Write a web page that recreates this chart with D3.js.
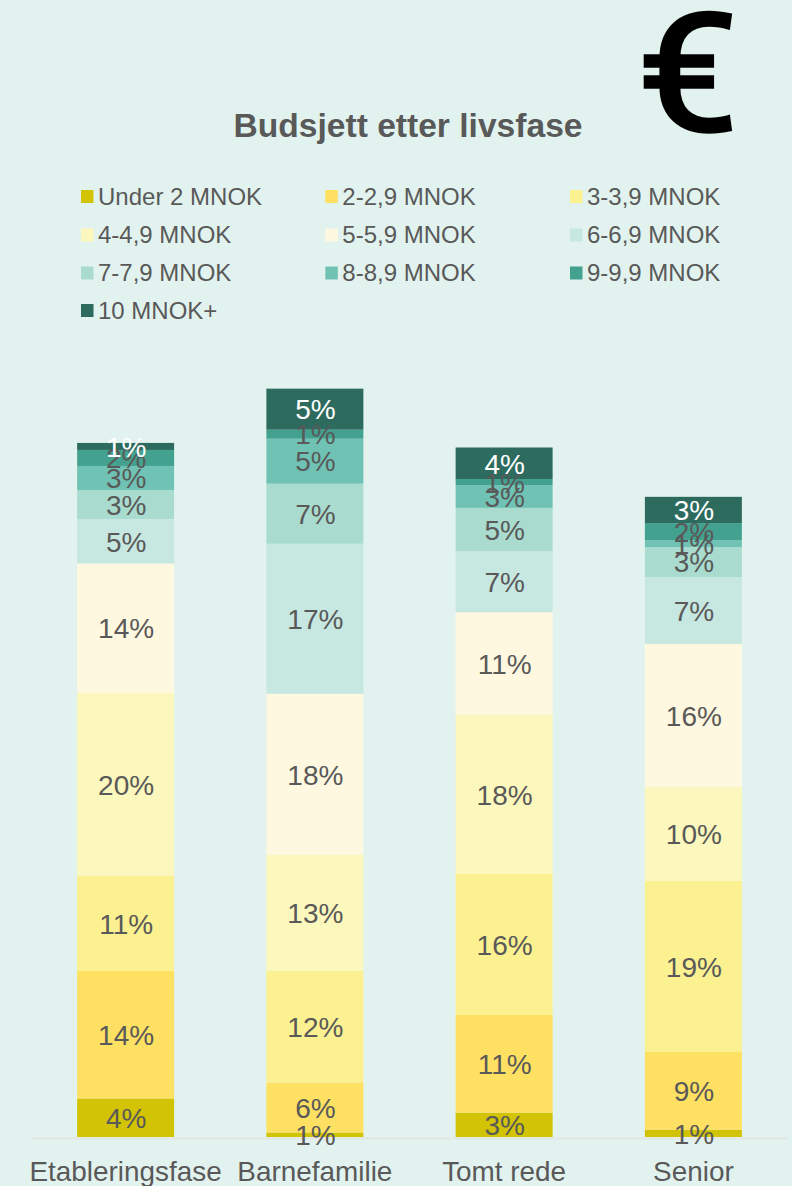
<!DOCTYPE html>
<html><head><meta charset="utf-8">
<script src="https://cdn.jsdelivr.net/npm/d3@7"></script>
<style>html,body{margin:0;padding:0;background:#E2F3EF}svg{display:block}text{font-family:"Liberation Sans",Arial,sans-serif}</style>
</head><body><div id="c"></div>
<script>
const categories = ["Etableringsfase","Barnefamilie","Tomt rede","Senior"];
const seriesNames = ["Under 2 MNOK","2-2,9 MNOK","3-3,9 MNOK","4-4,9 MNOK","5-5,9 MNOK","6-6,9 MNOK","7-7,9 MNOK","8-8,9 MNOK","9-9,9 MNOK","10 MNOK+"];
const under2 = [4.28,0.5,2.7,0.81];
const m2 = [14.17,5.56,10.86,8.63];
const m3 = [10.56,12.41,15.67,19];
const m4 = [20.33,12.89,17.67,10.44];
const m5 = [14.39,17.89,11.41,15.92];
const m6 = [4.94,16.67,6.78,7.41];
const m7 = [3.22,6.67,4.81,3.33];
const m8 = [2.67,5,2.5,0.78];
const m9 = [1.78,1,0.71,1.89];
const m10 = [0.78,4.56,3.5,2.92];
const seriesValues = [under2,m2,m3,m4,m5,m6,m7,m8,m9,m10];
const colors = ["#D2C305","#FEE062","#FBF190","#FCF7BC","#FFF8E0","#C7E7E1","#A9DCCF","#70C3B4","#43A28F","#2D6B5F"];
const chartTitle = "Budsjett etter livsfase";

const W=792,H=1186, base=1137, TXT="#595959";
const svg=d3.select("#c").append("svg").attr("width",W).attr("height",H);
svg.append("rect").attr("width",W).attr("height",H).attr("fill","#E2F3EF");

const x=d3.scaleBand().domain(categories).range([31,788]).paddingInner(0.4875).paddingOuter(0.24375);
const y=d3.scaleLinear().domain([0,100]).range([base,base-900]);

const rows=categories.map((c,i)=>{const o={cat:c};seriesNames.forEach((s,k)=>o[s]=seriesValues[k][i]);return o;});
const stacked=d3.stack().keys(seriesNames)(rows);

svg.append("g").selectAll("g").data(stacked).join("g").attr("fill",(d,i)=>colors[i])
 .selectAll("rect").data(d=>d).join("rect")
 .attr("x",d=>x(d.data.cat)).attr("width",x.bandwidth())
 .attr("y",d=>y(d[1])).attr("height",d=>y(d[0])-y(d[1]));

// axis
const ax=svg.append("g").attr("transform",`translate(0,${base+1})`).call(d3.axisBottom(x).tickSize(0).tickPadding(23));
ax.select(".domain").attr("stroke","#E3E6E4").attr("stroke-width",2);
ax.selectAll("text").attr("font-size",27.9).attr("fill",TXT).attr("font-family","Liberation Sans");

// data labels
const lab=svg.append("g");
stacked.forEach((s,k)=>{
 lab.selectAll(null).data(s).join("text")
  .attr("x",d=>x(d.data.cat)+x.bandwidth()/2+0.5)
  .attr("y",d=>(y(d[0])+y(d[1]))/2+0.5)
  .attr("dy","0.35em").attr("text-anchor","middle").attr("font-size",28)
  .attr("fill",k===9?"#FFFFFF":TXT)
  .text(d=>Math.round(d[1]-d[0]+1e-9)+"%");
});

// title
svg.append("text").attr("x",408).attr("y",137).attr("text-anchor","middle")
 .attr("font-size",33.6).attr("font-weight","bold").attr("fill",TXT).text(chartTitle);

// euro
svg.append("text").attr("transform","translate(688,130) scale(1.1,1)").attr("text-anchor","middle")
 .attr("font-size",164).attr("fill","#000").attr("stroke","#000").attr("stroke-width",3.5)
 .style("font-family","Roboto").text("€");

// legend
const colX=[81,325.3,570], rowY=[196.5,235,273,310.5];
const leg=svg.append("g").selectAll("g").data(seriesNames).join("g")
 .attr("transform",(d,i)=>`translate(${colX[i%3]},${rowY[Math.floor(i/3)]})`);
leg.append("rect").attr("x",0).attr("y",-6.5).attr("width",12.5).attr("height",13).attr("fill",(d,i)=>colors[i]);
leg.append("text").attr("x",17).attr("dy","0.35em").attr("font-size",24).attr("fill",TXT).text(d=>d);
</script></body></html>
